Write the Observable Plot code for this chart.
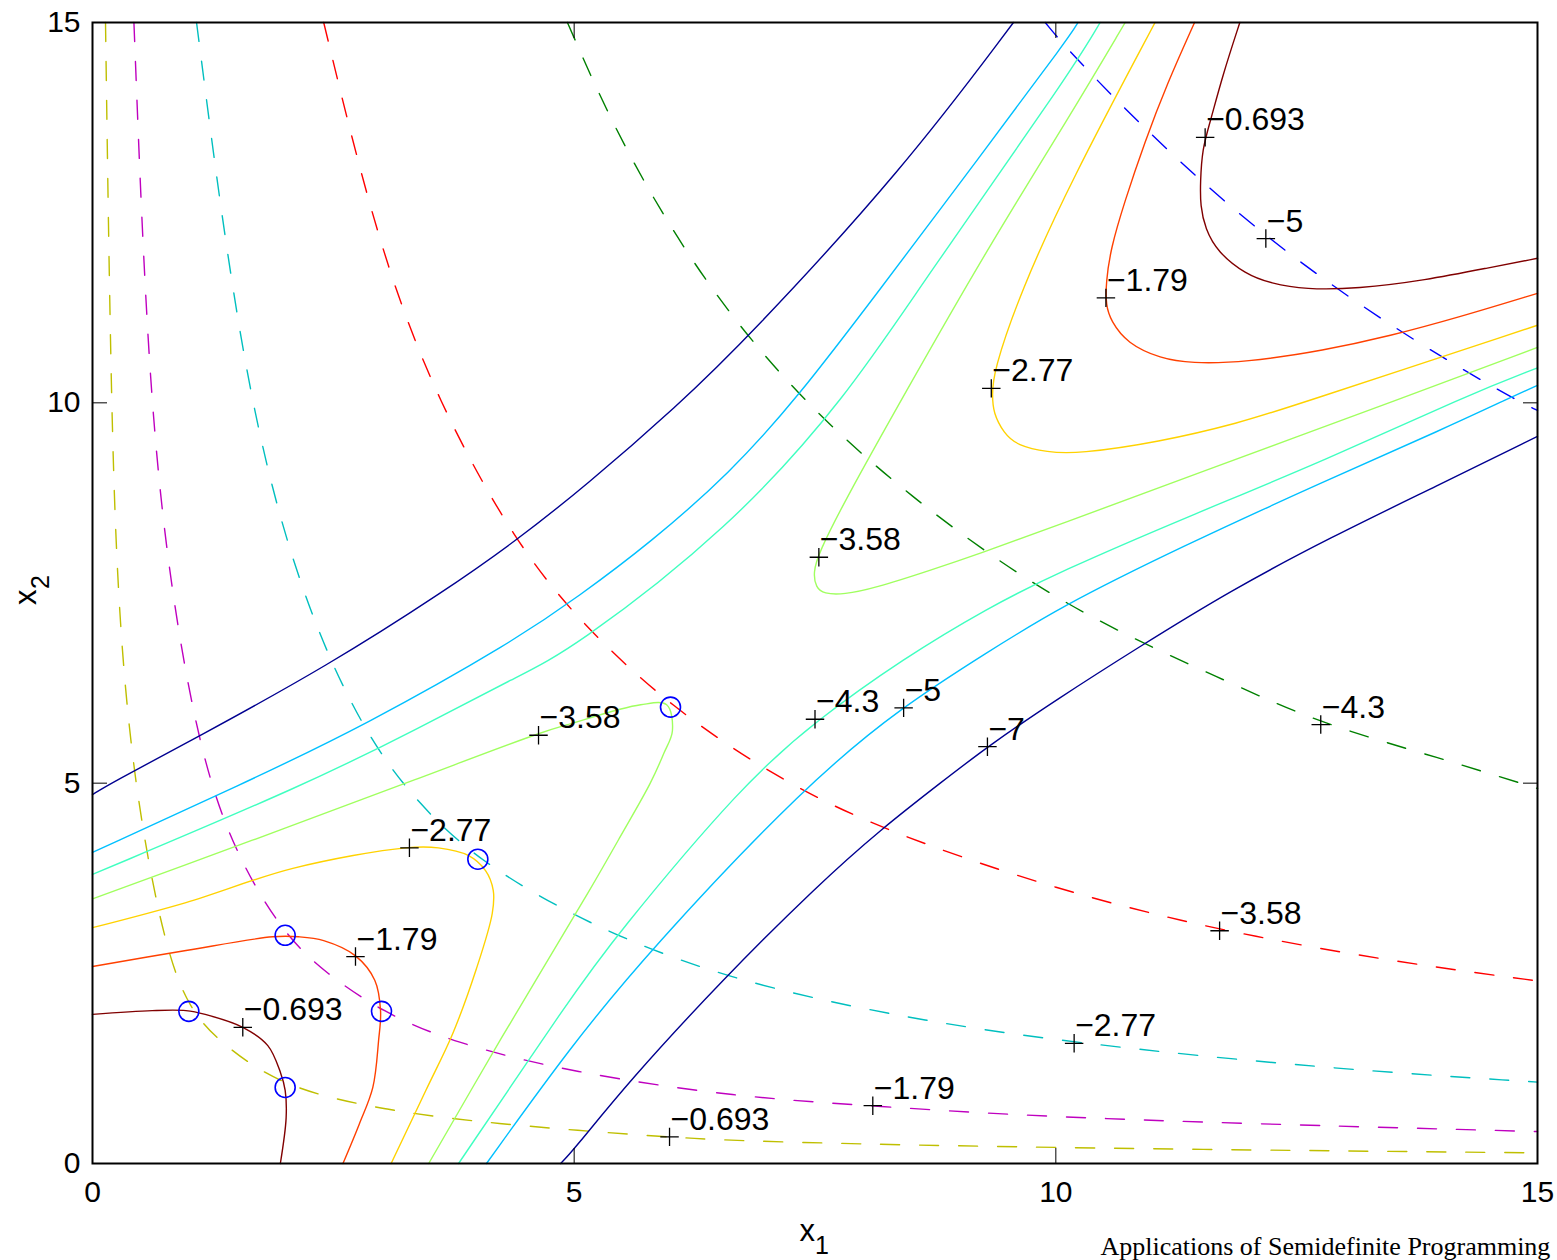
<!DOCTYPE html>
<html><head><meta charset="utf-8">
<script src="https://cdn.jsdelivr.net/npm/d3@7"></script>
<script src="https://cdn.jsdelivr.net/npm/@observablehq/plot@0.6"></script>
<style>html,body{margin:0;padding:0;background:#fff;overflow:hidden}#chart svg{display:block}</style>
</head><body><div id="chart"></div>
<script>
// ---- axis ticks ----
const xTicks = [0, 5, 10, 15];
const yTicks = [0, 5, 10, 15];

// ---- contour levels ----
const solidLevels = [-0.693, -1.79, -2.77, -3.58, -4.3, -5, -7];
const dashedLevels = [-0.693, -1.79, -2.77, -3.58, -4.3, -5];

// ---- solid contours [x1, x2] ----
const solid0693Lower = [[0,1.96],[0.62,2.01],[0.97,2.01],[1.17,1.96],[1.56,1.79],[1.82,1.55],[1.95,1.20],[2.00,0.96],[2.01,0.60],[1.95,0]];
const solid0693Upper = [[11.91,15],[11.73,14.3],[11.60,13.68],[11.52,13.34],[11.50,12.9],[11.50,12.59],[11.55,12.29],[11.68,11.98],[11.97,11.69],[12.23,11.57],[12.59,11.49],[13.13,11.50],[13.83,11.61],[14.51,11.78],[15,11.90]];
const solid179Lower = [[0,2.59],[0.97,2.80],[1.87,2.98],[2.14,2.98],[2.40,2.93],[2.73,2.73],[2.93,2.41],[2.99,2.01],[2.97,1.62],[2.91,1.0],[2.77,0.52],[2.60,0]];
const solid179Upper = [[11.44,15],[11.16,14.21],[10.92,13.42],[10.71,12.63],[10.57,12.03],[10.52,11.58],[10.52,11.28],[10.57,11.08],[10.74,10.78],[11.09,10.58],[11.40,10.52],[11.96,10.53],[12.79,10.69],[13.47,10.88],[14.17,11.12],[15,11.44]];
const solid277Lower = [[0,3.10],[0.97,3.43],[2.08,3.88],[3.25,4.15],[3.59,4.15],[3.90,4.05],[4.08,3.85],[4.16,3.59],[4.15,3.29],[3.98,2.54],[3.74,1.71],[3.46,0.96],[3.10,0]];
const solid277Upper = [[11.03,15],[10.15,12.9],[9.63,11.45],[9.35,10.40],[9.34,10.10],[9.35,9.87],[9.46,9.60],[9.60,9.44],[9.91,9.35],[10.23,9.33],[11.06,9.48],[11.92,9.74],[12.44,9.95],[15,11.02]];
const solid358Lower = [[0,3.48],[1.66,4.25],[3.25,5.0],[4.63,5.65],[4.96,5.78],[5.69,6.03],[5.96,6.03],[6.02,5.69],[5.93,5.39],[5.79,5.0],[5.48,4.3],[5.14,3.55],[4.25,1.66],[3.49,0]];
const solid358Upper = [[10.72,15],[10.15,13.78],[9.29,12.03],[8.40,10.05],[7.80,8.69],[7.54,8.03],[7.48,7.77],[7.51,7.57],[7.59,7.49],[7.80,7.48],[8.11,7.56],[8.70,7.80],[9.19,8.01],[10.02,8.39],[11.40,9.04],[13.68,10.10],[15,10.73]];
const solid43Upper = [[0,3.80],[2.25,5.0],[3.38,5.72],[4.42,6.41],[4.96,6.74],[6.62,8.35],[7.84,10.10],[8.60,11.55],[10.15,14.34],[10.46,15]];
const solid43Lower = [[3.80,0],[4.96,2.17],[5.41,2.96],[6.76,5.0],[7.51,5.82],[8.42,6.64],[9.29,7.30],[10.02,7.77],[11.40,8.52],[12.79,9.24],[14.27,10.10],[15,10.46]];
const solid5Upper = [[0,4.09],[1.54,4.98],[2.83,5.76],[4.39,6.88],[5.04,7.45],[5.79,8.16],[6.62,9.08],[7.32,10.07],[8.15,11.45],[9.22,13.25],[10.15,14.83],[10.23,15]];
const solid5Lower = [[4.09,0],[4.96,1.53],[5.76,2.77],[7.42,5.0],[8.42,6.02],[9.29,6.72],[10.02,7.30],[11.29,8.10],[12.79,8.97],[14.03,9.66],[14.72,10.07],[15,10.23]];
const solid7Upper = [[0,4.85],[0.19,5.0],[1.07,5.59],[2.45,6.55],[3.66,7.53],[4.39,8.18],[5.12,8.91],[6.07,9.96],[6.80,10.85],[8.42,13.08],[9.56,15]];
const solid7Lower = [[4.86,0],[4.99,0.17],[5.56,1.07],[6.55,2.43],[7.53,3.66],[8.18,4.39],[8.83,5.03],[9.30,5.49],[10.02,6.11],[10.85,6.78],[11.81,7.53],[12.85,8.23],[13.96,8.91],[15,9.56]];

// ---- dashed contours ----
const dashed0693 = [[0.135,15],[0.19,10.13],[0.26,7.37],[0.42,5.06],[0.73,2.93],[1.0,2.01],[1.38,1.53],[2.0,0.99],[3.04,0.70],[4.08,0.53],[5.98,0.34],[7.04,0.28],[10.15,0.20],[15,0.14]];
const dashed179 = [[0.43,15],[0.58,10.13],[0.83,7.33],[1.17,5.10],[1.56,3.89],[2.0,3.0],[2.42,2.50],[3.01,1.99],[3.74,1.59],[4.96,1.20],[6.70,0.87],[8.10,0.76],[10.02,0.59],[15,0.42]];
const dashed277 = [[1.08,15],[1.57,10.19],[2.18,7.38],[2.83,5.63],[3.38,4.73],[4.0,3.98],[5.12,3.15],[6.55,2.43],[8.42,1.91],[10.19,1.58],[12.79,1.25],[15,1.07]];
const dashed358 = [[2.40,15],[2.97,12.03],[3.59,9.99],[4.39,8.16],[5.07,7.10],[6.0,6.0],[7.11,5.06],[8.18,4.39],[10.02,3.59],[11.70,3.06],[13.47,2.66],[15,2.40]];
const dashed43 = [[4.93,15],[5.48,13.41],[6.34,11.58],[7.32,10.08],[8.42,8.82],[10.02,7.34],[11.81,6.32],[12.75,5.78],[13.99,5.33],[15,4.93]];
const dashed5 = [[9.89,15],[10.15,14.6],[11.06,13.42],[12.17,12.17],[13.47,11.0],[14.72,10.07],[15,9.90]];

// ---- labelled points (clabel "+" and text) ----
const labelText = ["\u22120.693","\u22121.79","\u22122.77","\u22123.58","\u22123.58","\u22124.3","\u22125","\u22127","\u22122.77","\u22121.79","\u22120.693",
                   "\u22125","\u22124.3","\u22123.58","\u22122.77","\u22121.79","\u22120.693"];
const labelX = [11.55,10.52,9.33,7.54,4.63,7.50,8.42,9.29,3.29,2.73,1.56, 12.18,12.75,11.70,10.19,8.10,5.99];
const labelY = [13.49,11.38,10.19,7.97,5.63,5.84,5.99,5.48,4.15,2.72,1.79, 12.16,5.77,3.06,1.58,0.76,0.35];

// ---- circled points ----
const circleX = [1, 2, 2, 3, 4, 6];
const circleY = [2, 1, 3, 2, 4, 6];

const footer = "Applications of Semidefinite Programming";

// ---- styles ----
const solidColors = ["#800000", "#ff4000", "#ffd200", "#a0ff5f", "#40ffc0", "#00c0ff", "#000090"];
const dashedColors = ["#bfbf00", "#bf00bf", "#00bfbf", "#ff0000", "#008000", "#0000ff"];
const solidColorOf = new Map(solidLevels.map((l, i) => [l, solidColors[i]]));
const dashedColorOf = new Map(dashedLevels.map((l, i) => [l, dashedColors[i]]));

// ---- build tables ----
function rows(level, name, pts) { return pts.map(([x, y]) => ({level, curve: name, x, y})); }
// branches with sharp (grid) corners
const solidCornerRows = [
  ...rows(-0.693, "s0693a", solid0693Lower), ...rows(-1.79, "s179a", solid179Lower),
  ...rows(-2.77, "s277a", solid277Lower), ...rows(-3.58, "s358a", solid358Lower)
];
// smooth branches
const solidSmoothRows = [
  ...rows(-0.693, "s0693b", solid0693Upper), ...rows(-1.79, "s179b", solid179Upper),
  ...rows(-2.77, "s277b", solid277Upper), ...rows(-3.58, "s358b", solid358Upper),
  ...rows(-4.3, "s43a", solid43Upper), ...rows(-4.3, "s43b", solid43Lower),
  ...rows(-5, "s5a", solid5Upper), ...rows(-5, "s5b", solid5Lower),
  ...rows(-7, "s7a", solid7Upper), ...rows(-7, "s7b", solid7Lower)
];
const dashedRows = [
  ...rows(-0.693, "d0693", dashed0693), ...rows(-1.79, "d179", dashed179),
  ...rows(-2.77, "d277", dashed277), ...rows(-3.58, "d358", dashed358),
  ...rows(-4.3, "d43", dashed43), ...rows(-5, "d5", dashed5)
];
const labels = labelText.map((t, i) => ({t, x: labelX[i], y: labelY[i]}));
const circles = circleX.map((x, i) => ({x, y: circleY[i]}));

const FONT = "Liberation Sans, Arial, Helvetica, sans-serif";
const LW = 1.4;

const chart = Plot.plot({
  width: 1557, height: 1260,
  marginLeft: 92, marginRight: 20, marginTop: 22, marginBottom: 97,
  style: {fontFamily: FONT, background: "white", color: "black"},
  x: {domain: [0, 15]},
  y: {domain: [0, 15]},
  color: {type: "identity"},
  marks: [
    Plot.line(dashedRows, {x: "x", y: "y", z: "curve", stroke: d => dashedColorOf.get(d.level), strokeWidth: LW, strokeDasharray: "19,20", curve: "basis"}),
    Plot.line(solidSmoothRows, {x: "x", y: "y", z: "curve", stroke: d => solidColorOf.get(d.level), strokeWidth: LW, curve: "basis"}),
    Plot.line(solidCornerRows, {x: "x", y: "y", z: "curve", stroke: d => solidColorOf.get(d.level), strokeWidth: LW, curve: "catmull-rom"}),
    Plot.dot(circles, {x: "x", y: "y", r: 10, stroke: "#0000ff", strokeWidth: 1.6, fill: "none"}),
    Plot.dot(labels, {x: "x", y: "y", symbol: "plus", r: 6, stroke: "black", strokeWidth: 1.3}),
    Plot.text(labels, {x: "x", y: "y", text: "t", textAnchor: "start", lineAnchor: "bottom", dx: 1, dy: -7, fontSize: 32, fontFamily: FONT, fill: "black"}),
    Plot.axisX({anchor: "bottom", ticks: xTicks, tickSize: -15, tickPadding: 32, fontSize: 30, label: null, strokeWidth: 1}),
    Plot.axisX({anchor: "top", ticks: xTicks, tickSize: -15, fill: "none", label: null, strokeWidth: 1}),
    Plot.axisY({anchor: "left", ticks: yTicks, tickSize: -15, tickPadding: 27, fontSize: 30, label: null, strokeWidth: 1}),
    Plot.axisY({anchor: "right", ticks: yTicks, tickSize: -15, fill: "none", label: null, strokeWidth: 1}),
    Plot.frame({stroke: "black", strokeWidth: 2}),
    Plot.text(["x"], {frameAnchor: "bottom", text: d => d, textAnchor: "end", lineAnchor: "bottom", dx: 0, dy: 77, fontSize: 31, fontFamily: FONT}),
    Plot.text(["1"], {frameAnchor: "bottom", text: d => d, textAnchor: "start", lineAnchor: "bottom", dx: 0, dy: 90, fontSize: 25, fontFamily: FONT}),
    Plot.text(["x"], {frameAnchor: "left", text: d => d, textAnchor: "start", lineAnchor: "bottom", rotate: -90, dx: -57, dy: 12, fontSize: 31, fontFamily: FONT}),
    Plot.text(["2"], {frameAnchor: "left", text: d => d, textAnchor: "start", lineAnchor: "bottom", rotate: -90, dx: -44, dy: -4, fontSize: 25, fontFamily: FONT}),
    Plot.text([footer], {frameAnchor: "bottom-left", text: d => d, textAnchor: "start", lineAnchor: "bottom", dx: 1008, dy: 91, fontSize: 26, fontFamily: "Liberation Serif, Times New Roman, serif"})
  ]
});
document.getElementById("chart").appendChild(chart);
</script></body></html>
